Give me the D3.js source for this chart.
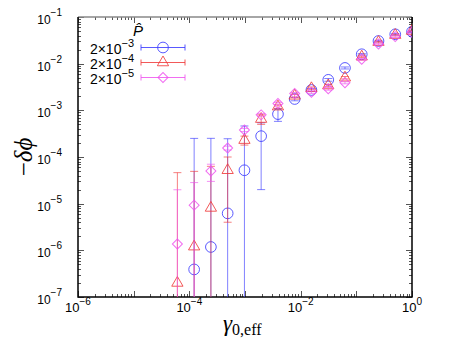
<!DOCTYPE html>
<html>
<head>
<meta charset="utf-8">
<script src="https://cdn.jsdelivr.net/npm/d3@7"></script>
<style>
  body { margin: 0; background: #fff; }
  svg { display: block; }
</style>
</head>
<body>
<div id="chart"></div>
<script>
// x values: gamma_0,eff (halving steps down from 1)
const gammaVals = [6.1e-5, 1.22e-4, 2.44e-4, 4.88e-4, 9.77e-4, 1.95e-3, 3.91e-3,
  7.81e-3, 1.56e-2, 3.13e-2, 6.25e-2, 0.125, 0.25, 0.5, 1];

// -delta phi for P^ = 2e-3 (circles)
const phiP3 = [null, 3.9e-7, 1.18e-6, 6.2e-6, 5.2e-5, 2.8e-4, 8.3e-4, 1.75e-3,
  2.73e-3, 4.5e-3, 8.1e-3, 1.59e-2, 3.06e-2, 4.26e-2, 4.84e-2];
const errP3 = [null, 2.5e-4, 2.5e-4, 2.4e-4, 4.1e-4, 2.6e-4, 2.5e-4, 1.5e-4,
  2e-4, 3e-4, 4e-4, 5e-4, 1e-3, 1.5e-3, 2e-3];

// P^ = 2e-4 (triangles)
const phiP4 = [2.0e-7, 1.2e-6, 8.1e-6, 5.2e-5, 2.3e-4, 6.5e-4, 1.2e-3, 2.05e-3,
  2.96e-3, 3.4e-3, 5.0e-3, 1.41e-2, 2.9e-2, 4.1e-2, 5.0e-2];
const errP4 = [4.6e-5, 4.8e-5, 5.5e-5, 4.8e-5, 5e-5, 1.5e-4, 1e-4, 1.5e-4,
  2e-4, 2e-4, 3e-4, 5e-4, 1e-3, 1.5e-3, 2e-3];

// P^ = 2e-5 (diamonds)
const phiP5 = [1.37e-6, 9.3e-6, 5.0e-5, 1.56e-4, 3.8e-4, 8.0e-4, 1.4e-3, 2.3e-3,
  2.45e-3, 2.9e-3, 3.9e-3, 1.24e-2, 2.63e-2, 3.8e-2, 4.7e-2];
const errP5 = [1.85e-5, 1.9e-5, 2e-5, 1.5e-5, 3e-5, 5e-5, 8e-5, 1e-4,
  1.5e-4, 2e-4, 2e-4, 5e-4, 1e-3, 1.5e-3, 2e-3];

const seriesLabels = ["\u22123", "\u22124", "\u22125"];
const xTickExps = [-6, -4, -2, 0];
const yTickExps = [-7, -6, -5, -4, -3, -2, -1];

const blueClr = "#3c3cff";
const redClr = "#f03c3c";
const pinkClr = "#ee55ee";

const w = 463, h = 347;
const mLeft = 78, mRight = 412, mTop = 17, mBottom = 297;

const svg = d3.select("#chart").append("svg")
  .attr("width", w).attr("height", h);

const x = d3.scaleLog().domain([1e-6, 1]).range([mLeft, mRight]);
const y = d3.scaleLog().domain([1e-7, 1e-1]).range([mBottom, mTop]);

svg.append("clipPath").attr("id", "clip")
  .append("rect")
  .attr("x", mLeft).attr("y", mTop)
  .attr("width", mRight - mLeft).attr("height", mBottom - mTop);

// TICKS (inward on all four sides)
const xMajor = d3.range(-6, 1).map(e => Math.pow(10, e));
const yMajor = d3.range(-7, 0).map(e => Math.pow(10, e));
const xMinor = [], yMinor = [];
xMajor.slice(0, -1).forEach(v => { for (let k = 2; k < 10; k++) xMinor.push(v * k); });
yMajor.slice(0, -1).forEach(v => { for (let k = 2; k < 10; k++) yMinor.push(v * k); });

const ticks = svg.append("g").attr("stroke", "#555").attr("stroke-width", 1);
function vTicks(vals, len) {
  vals.forEach(v => {
    const px = Math.round(x(v)) + 0.5;
    ticks.append("line").attr("x1", px).attr("x2", px).attr("y1", mBottom).attr("y2", mBottom - len);
    ticks.append("line").attr("x1", px).attr("x2", px).attr("y1", mTop).attr("y2", mTop + len);
  });
}
function hTicks(vals, len) {
  vals.forEach(v => {
    const py = Math.round(y(v)) + 0.5;
    ticks.append("line").attr("y1", py).attr("y2", py).attr("x1", mLeft).attr("x2", mLeft + len);
    ticks.append("line").attr("y1", py).attr("y2", py).attr("x1", mRight).attr("x2", mRight - len);
  });
}
vTicks(xMajor, 6); vTicks(xMinor, 3);
hTicks(yMajor, 6); hTicks(yMinor, 3);

// FRAME
svg.append("line").attr("x1", mLeft).attr("x2", mRight).attr("y1", mTop).attr("y2", mTop)
  .attr("stroke", "#888").attr("stroke-width", 1.5);
svg.append("path")
  .attr("d", `M${mLeft},${mTop}V${mBottom}H${mRight}V${mTop}`)
  .attr("fill", "none").attr("stroke", "#000").attr("stroke-width", 1.5);

// TICK LABELS
const font = "'Liberation Sans', Arial, sans-serif";
xTickExps.forEach(e => {
  const t = svg.append("text")
    .attr("x", x(Math.pow(10, e)))
    .attr("y", 312)
    .attr("text-anchor", "middle")
    .style("font-family", font).style("font-size", "13px");
  t.append("tspan").text("10");
  t.append("tspan").attr("dy", -7).style("font-size", "10px").text(e === 0 ? "0" : "\u2212" + (-e));
});
yTickExps.forEach(e => {
  const t = svg.append("text")
    .attr("x", 62)
    .attr("y", y(Math.pow(10, e)) + 7)
    .attr("text-anchor", "end")
    .style("font-family", font).style("font-size", "12px");
  t.append("tspan").text("10");
  t.append("tspan").attr("dy", -8).style("font-size", "10px").text("\u2212" + (-e));
});

// AXIS TITLES
const serif = "'Liberation Serif', 'DejaVu Serif', serif";
const xt = svg.append("text").attr("x", 223).attr("y", 331)
  .style("font-family", serif);
xt.append("tspan").style("font-style", "italic").style("font-size", "23px").text("\u03b3");
xt.append("tspan").attr("dy", 4).style("font-size", "16px").text("0,eff");

svg.append("text")
  .attr("transform", "translate(32,157) rotate(-90)")
  .attr("text-anchor", "middle")
  .style("font-family", serif).style("font-size", "25px")
  .html("\u2212<tspan font-style='italic'>\u03b4\u03d5</tspan>");

// MARKERS
const circleSym = d3.symbol().type(d3.symbolCircle).size(90);
const triSym = d3.symbol().type(d3.symbolTriangle).size(55);
const diaSym = d3.symbol().type(d3.symbolSquare).size(50);

const plot = svg.append("g").attr("clip-path", "url(#clip)");

function drawSeries(vals, errs, clr, sym, rot) {
  const pts = gammaVals.map((g, i) => ({ g: g, v: vals[i], e: errs[i] }))
    .filter(d => d.v !== null);
  const eb = plot.append("g").attr("stroke", clr).attr("stroke-opacity", 0.65).attr("stroke-width", 1);
  pts.forEach(d => {
    const px = x(d.g);
    const hi = d.v + d.e;
    const lo = d.v - d.e;
    const yHi = y(hi);
    const yLo = lo > 0 ? y(lo) : mBottom + 5;
    eb.append("line").attr("x1", px).attr("x2", px).attr("y1", yHi).attr("y2", yLo);
    eb.append("line").attr("x1", px - 4).attr("x2", px + 4).attr("y1", yHi).attr("y2", yHi);
    if (lo > 0) eb.append("line").attr("x1", px - 4).attr("x2", px + 4).attr("y1", yLo).attr("y2", yLo);
  });
  plot.append("g").selectAll("path").data(pts).enter().append("path")
    .attr("d", sym)
    .attr("transform", d => `translate(${x(d.g)},${y(d.v)}) rotate(${rot})`)
    .attr("fill", "none").attr("stroke", clr).attr("stroke-opacity", 0.85)
    .attr("stroke-width", 1);
}
drawSeries(phiP3, errP3, blueClr, circleSym, 0);
drawSeries(phiP4, errP4, redClr, triSym, 0);
drawSeries(phiP5, errP5, pinkClr, diaSym, 45);

// LEGEND
const lg = svg.append("g");
lg.append("text").attr("x", 138).attr("y", 36).attr("text-anchor", "middle")
  .style("font-family", font).style("font-size", "15px").style("font-style", "italic")
  .text("P\u0302");
const legendClrs = [blueClr, redClr, pinkClr];
const legendSyms = [circleSym, triSym, diaSym];
const legendRots = [0, 0, 45];
seriesLabels.forEach((lab, i) => {
  const base = 53.5 + i * 15;
  const ly = base - 6;
  const t = lg.append("text").attr("x", 134).attr("y", base).attr("text-anchor", "end")
    .style("font-family", font).style("font-size", "14px");
  t.append("tspan").text("2\u00d710");
  t.append("tspan").attr("dy", -7).style("font-size", "11px").text(lab);
  const g = lg.append("g").attr("stroke", legendClrs[i]).attr("fill", "none").attr("stroke-opacity", 0.85);
  g.append("line").attr("x1", 141).attr("x2", 185).attr("y1", ly).attr("y2", ly);
  g.append("line").attr("x1", 141).attr("x2", 141).attr("y1", ly - 3).attr("y2", ly + 3);
  g.append("line").attr("x1", 185).attr("x2", 185).attr("y1", ly - 3).attr("y2", ly + 3);
  g.append("path").attr("d", legendSyms[i]).attr("transform", `translate(163,${ly}) rotate(${legendRots[i]})`);
});
</script>
</body>
</html>
